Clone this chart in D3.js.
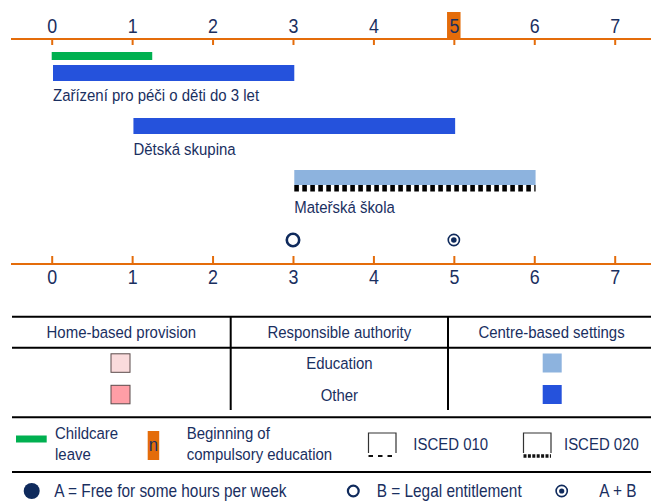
<!DOCTYPE html>
<html>
<head>
<meta charset="utf-8">
<script src="https://cdn.jsdelivr.net/npm/d3@7"></script>
<style>
  html, body { margin: 0; padding: 0; background: #fff; }
  svg { display: block; }
  text { font-family: "Liberation Sans", Arial, sans-serif; fill: #1a2f5f; }
</style>
</head>
<body>
<svg id="chart" width="651" height="501"></svg>
<script>
// ---- data ----
const ageTicks = [0, 1, 2, 3, 4, 5, 6, 7];
const compulsoryAge = 5;
const childcareLeave = [0, 1.25];
const settingNames = ["Zařízení pro péči o děti do 3 let", "Dětská skupina", "Mateřská škola"];
const settingStart = [0, 1, 3];
const settingEnd = [3, 5, 6];
const settingAuthority = ["Other", "Other", "Education"];
const settingIsced = [null, null, "020"];
const entitlementAges = [3, 5];
const entitlementTypes = ["B", "AB"];
const tableHeaders = ["Home-based provision", "Responsible authority", "Centre-based settings"];
const authorities = ["Education", "Other"];
const legendLines = [["Childcare", "leave"], ["Beginning of", "compulsory education"]];
const isced = ["ISCED 010", "ISCED 020"];
const symbolLabels = ["A = Free for some hours per week", "B = Legal entitlement", "A + B"];

// ---- styles ----
const C = {
  orange: "#e46c0a",
  green: "#00b050",
  blue: "#2552dc",
  lightBlue: "#8db3de",
  pinkLight: "#fadbdc",
  pink: "#ff9ea6",
  text: "#1a2f5f",
  navy: "#0f2a5c"
};
const authColor = { Education: C.lightBlue, Other: C.blue };
const homeColor = { Education: C.pinkLight, Other: C.pink };
const NARROW = 0.88;

const svg = d3.select("#chart");
const x = d3.scaleLinear().domain([0, 7]).range([51.7, 614.7]);

function txt(xp, yp, s, size, anchor, k) {
  return svg.append("text")
    .attr("transform", `translate(${xp},${yp}) scale(${k || NARROW},1)`)
    .attr("text-anchor", anchor || "start")
    .attr("font-size", size).text(s);
}

// ---- top axis ----
const topY = 39;
svg.append("rect")
  .attr("x", x(compulsoryAge) - 6.8).attr("y", 12)
  .attr("width", 13.5).attr("height", topY - 12)
  .attr("fill", C.orange);

svg.append("line").attr("x1", 11).attr("x2", 651).attr("y1", topY).attr("y2", topY)
  .attr("stroke", C.orange).attr("stroke-width", 2.2);
const gTop = svg.append("g").attr("transform", `translate(0,${topY})`)
  .call(d3.axisTop(x).tickValues(ageTicks).tickSize(-6).tickPadding(6).tickFormat(d3.format("d")));
gTop.select(".domain").remove();
gTop.selectAll(".tick line").attr("stroke", C.orange).attr("stroke-width", 2);
gTop.selectAll(".tick text").attr("font-size", 21).attr("fill", C.text)
  .attr("transform", "scale(0.85,1)")
  .style("font-family", '"Liberation Sans", Arial, sans-serif');

// ---- bottom axis ----
const botY = 264;
svg.append("line").attr("x1", 11).attr("x2", 651).attr("y1", botY).attr("y2", botY)
  .attr("stroke", C.orange).attr("stroke-width", 2.2);
const gBot = svg.append("g").attr("transform", `translate(0,${botY})`)
  .call(d3.axisBottom(x).tickValues(ageTicks).tickSize(-8).tickPadding(5.5).tickFormat(d3.format("d")));
gBot.select(".domain").remove();
gBot.selectAll(".tick line").attr("stroke", C.orange).attr("stroke-width", 2);
gBot.selectAll(".tick text").attr("font-size", 21).attr("fill", C.text)
  .attr("transform", "scale(0.85,1)")
  .style("font-family", '"Liberation Sans", Arial, sans-serif');

// ---- childcare leave ----
svg.append("rect")
  .attr("x", x(childcareLeave[0])).attr("y", 52)
  .attr("width", x(childcareLeave[1]) - x(childcareLeave[0])).attr("height", 8)
  .attr("fill", C.green);

// ---- settings ----
const rowY = [65, 118, 170];
const barH = [16, 16, 15];
const labelY = [101, 155, 213];
settingNames.forEach((name, i) => {
  const x0 = x(settingStart[i]) + 1.3, x1 = x(settingEnd[i]) + 1.3;
  svg.append("rect").attr("x", x0).attr("y", rowY[i])
    .attr("width", x1 - x0).attr("height", barH[i])
    .attr("fill", authColor[settingAuthority[i]]);
  if (settingIsced[i] === "020") {
    svg.append("line").attr("x1", x0).attr("x2", x1)
      .attr("y1", rowY[i] + barH[i] + 3.3).attr("y2", rowY[i] + barH[i] + 3.3)
      .attr("stroke", "#000").attr("stroke-width", 6.5)
      .attr("stroke-dasharray", "4.6,3.4");
  } else if (settingIsced[i] === "010") {
    svg.append("line").attr("x1", x0).attr("x2", x1)
      .attr("y1", rowY[i] + barH[i] + 3).attr("y2", rowY[i] + barH[i] + 3)
      .attr("stroke", "#000").attr("stroke-width", 3)
      .attr("stroke-dasharray", "8,6");
  }
  txt(x0, labelY[i], name, 17);
});

// ---- entitlement symbols ----
const symY = 240;
entitlementAges.forEach((a, i) => {
  const cx = x(a);
  if (entitlementTypes[i] === "B") {
    svg.append("circle").attr("cx", cx).attr("cy", symY).attr("r", 6.2)
      .attr("fill", "none").attr("stroke", C.navy).attr("stroke-width", 2.6);
  } else {
    svg.append("circle").attr("cx", cx).attr("cy", symY).attr("r", 5.6)
      .attr("fill", "none").attr("stroke", C.navy).attr("stroke-width", 1.6);
    svg.append("circle").attr("cx", cx).attr("cy", symY).attr("r", 2.8).attr("fill", C.navy);
  }
});

// ---- table ----
const tTop = 316.7, tHead = 347.7, tBot = 417.3;
const colX = [12, 230.7, 448, 651];
[tTop, tHead, tBot].forEach(yv => {
  svg.append("line").attr("x1", 12).attr("x2", 651).attr("y1", yv).attr("y2", yv)
    .attr("stroke", "#000").attr("stroke-width", 2);
});
[colX[1], colX[2]].forEach(xv => {
  svg.append("line").attr("x1", xv).attr("x2", xv).attr("y1", tTop).attr("y2", 410)
    .attr("stroke", "#000").attr("stroke-width", 2);
});
tableHeaders.forEach((h, i) => {
  txt((colX[i] + colX[i + 1]) / 2 + (i === 2 ? 2 : 0), 338, h, 17, "middle");
});
const rowCY = [363, 394.5];
authorities.forEach((a, i) => {
  svg.append("rect").attr("x", 111).attr("y", rowCY[i] - 9.2).attr("width", 19).attr("height", 18.5)
    .attr("fill", homeColor[a]).attr("stroke", "#5a4a4a").attr("stroke-width", 1);
  txt(339.4, rowCY[i] + 6, a, 17, "middle");
  svg.append("rect").attr("x", 542.7).attr("y", rowCY[i] - 9.5).attr("width", 19).attr("height", 19)
    .attr("fill", authColor[a]);
});

// ---- legend ----
const legLine = 472;
svg.append("line").attr("x1", 12).attr("x2", 651).attr("y1", legLine).attr("y2", legLine)
  .attr("stroke", "#000").attr("stroke-width", 2);

svg.append("rect").attr("x", 16).attr("y", 435.5).attr("width", 30.7).attr("height", 7).attr("fill", C.green);
txt(55, 438.5, legendLines[0][0], 17);
txt(55, 460, legendLines[0][1], 17);

svg.append("rect").attr("x", 147.7).attr("y", 431).attr("width", 11.5).attr("height", 29).attr("fill", C.orange);
txt(153.4, 451, "n", 19, "middle").attr("fill", "#1b2240");
txt(186.7, 438.5, legendLines[1][0], 17);
txt(186.7, 460, legendLines[1][1], 17);

function iscedBox(x0, kind) {
  const w = 27.5, y0 = 433, y1 = 456;
  svg.append("path").attr("d", `M${x0},${y1 - 3}V${y0}H${x0 + w}V${y1 - 3}`)
    .attr("fill", "none").attr("stroke", "#333").attr("stroke-width", 1.2);
  svg.append("line").attr("x1", x0).attr("x2", x0 + w).attr("y1", y1).attr("y2", y1)
    .attr("stroke", "#111").attr("stroke-width", kind === 0 ? 2.2 : 3.5)
    .attr("stroke-dasharray", kind === 0 ? "4.5,5" : "3,1.4");
}
iscedBox(368.5, 0);
txt(413.3, 449.5, isced[0], 17);
iscedBox(523.5, 1);
txt(564, 449.5, isced[1], 17);

// symbols legend
const sy = 491;
svg.append("circle").attr("cx", 31.7).attr("cy", sy).attr("r", 8).attr("fill", C.navy);
txt(54.3, 497, symbolLabels[0], 17.5);
svg.append("circle").attr("cx", 353.3).attr("cy", sy).attr("r", 5.4)
  .attr("fill", "none").attr("stroke", C.navy).attr("stroke-width", 2.2);
txt(376.7, 497, symbolLabels[1], 17.5);
svg.append("circle").attr("cx", 561.7).attr("cy", sy).attr("r", 5.6)
  .attr("fill", "none").attr("stroke", C.navy).attr("stroke-width", 1.6);
svg.append("circle").attr("cx", 561.7).attr("cy", sy).attr("r", 2.6).attr("fill", C.navy);
txt(599.3, 497, symbolLabels[2], 17.5);
</script>
</body>
</html>
